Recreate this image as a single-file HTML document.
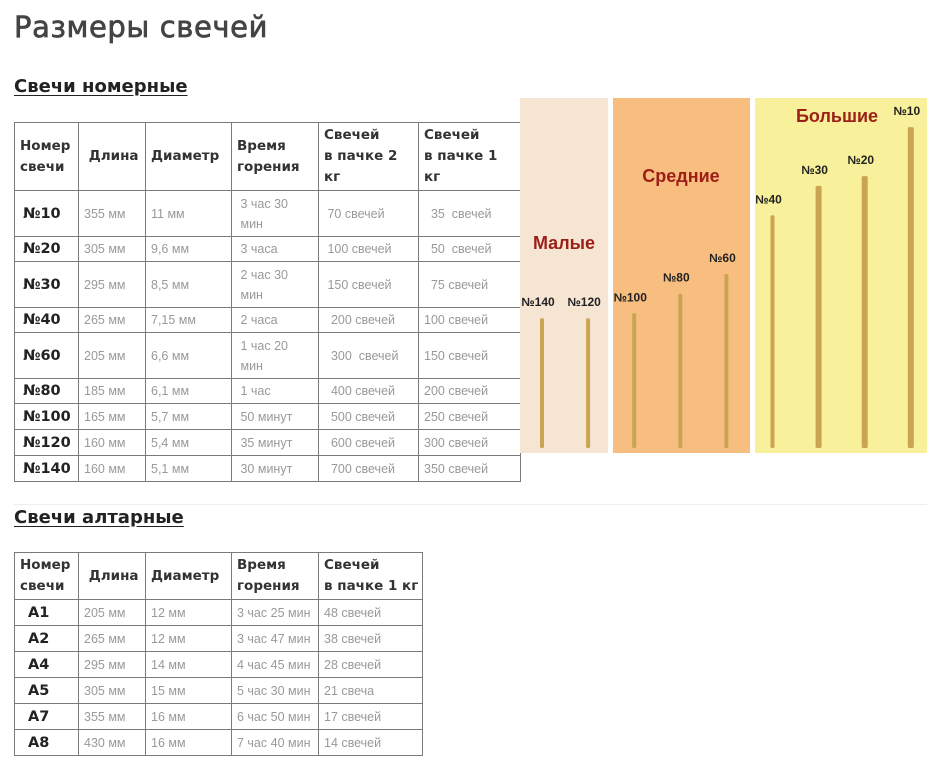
<!DOCTYPE html>
<html><head><meta charset="utf-8">
<style>
body{margin:0;width:937px;height:772px;background:#fff;position:relative;overflow:hidden;font-family:"DejaVu Sans","Liberation Sans","Noto Sans CJK SC",sans-serif}
.abs{position:absolute}
h1{position:absolute;left:14px;top:10px;margin:0;font-size:29px;font-weight:normal;color:#444;-webkit-text-stroke:0.7px #444;letter-spacing:0.6px}
h2{position:absolute;left:14px;margin:0;font-size:18px;font-weight:bold;color:#222;text-decoration:underline;text-underline-offset:3px}
table{position:absolute;border-collapse:collapse;table-layout:fixed}
td{border:1px solid #7a7a7a;padding:0 0 0 5px;font-family:"Liberation Sans",sans-serif;font-size:12.5px;color:#999;line-height:20px;vertical-align:middle;white-space:nowrap;overflow:hidden}
td.h{font-family:"DejaVu Sans",sans-serif;font-weight:bold;color:#333;font-size:13.5px;line-height:21px}
td.n{font-family:"DejaVu Sans",sans-serif;font-weight:bold;color:#222;font-size:14.5px;padding-left:8px}
</style></head><body>
<h1>Размеры свечей</h1>
<h2 style="top:76px">Свечи номерные</h2>
<table style="left:14px;top:122px;width:506px">
<colgroup><col style="width:64px"><col style="width:67px"><col style="width:86px"><col style="width:87px"><col style="width:100px"><col style="width:102px"></colgroup>
<tr style="height:68px"><td class="h">Номер<br>свечи</td><td class="h">&nbsp;Длина</td><td class="h">Диаметр</td><td class="h">Время<br>горения</td><td class="h">Свечей<br>в пачке 2<br>кг</td><td class="h">Свечей<br>в пачке 1<br>кг</td></tr>
<tr style="height:46px"><td class="n">№10</td><td>355 мм</td><td>11 мм</td><td>&nbsp;3 час 30<br>&nbsp;мин</td><td>&nbsp;70 свечей</td><td>&nbsp;&nbsp;35&nbsp; свечей</td></tr>
<tr style="height:25px"><td class="n">№20</td><td>305 мм</td><td>9,6 мм</td><td>&nbsp;3 часа</td><td>&nbsp;100 свечей</td><td>&nbsp;&nbsp;50&nbsp; свечей</td></tr>
<tr style="height:46px"><td class="n">№30</td><td>295 мм</td><td>8,5 мм</td><td>&nbsp;2 час 30<br>&nbsp;мин</td><td>&nbsp;150 свечей</td><td>&nbsp;&nbsp;75 свечей</td></tr>
<tr style="height:25px"><td class="n">№40</td><td>265 мм</td><td>7,15 мм</td><td>&nbsp;2 часа</td><td>&nbsp;&nbsp;200 свечей</td><td>100 свечей</td></tr>
<tr style="height:46px"><td class="n">№60</td><td>205 мм</td><td>6,6 мм</td><td>&nbsp;1 час 20<br>&nbsp;мин</td><td>&nbsp;&nbsp;300&nbsp; свечей</td><td>150 свечей</td></tr>
<tr style="height:25px"><td class="n">№80</td><td>185 мм</td><td>6,1 мм</td><td>&nbsp;1 час</td><td>&nbsp;&nbsp;400 свечей</td><td>200 свечей</td></tr>
<tr style="height:26px"><td class="n">№100</td><td>165 мм</td><td>5,7 мм</td><td>&nbsp;50 минут</td><td>&nbsp;&nbsp;500 свечей</td><td>250 свечей</td></tr>
<tr style="height:26px"><td class="n">№120</td><td>160 мм</td><td>5,4 мм</td><td>&nbsp;35 минут</td><td>&nbsp;&nbsp;600 свечей</td><td>300 свечей</td></tr>
<tr style="height:26px"><td class="n">№140</td><td>160 мм</td><td>5,1 мм</td><td>&nbsp;30 минут</td><td>&nbsp;&nbsp;700 свечей</td><td>350 свечей</td></tr>
</table>
<div class="abs" style="left:14px;top:504px;width:913px;height:1px;background:#eee"></div>
<h2 style="top:507px">Свечи алтарные</h2>
<table style="left:14px;top:552px;width:408px">
<colgroup><col style="width:64px"><col style="width:67px"><col style="width:86px"><col style="width:87px"><col style="width:104px"></colgroup>
<tr style="height:47px"><td class="h">Номер<br>свечи</td><td class="h">&nbsp;Длина</td><td class="h">Диаметр</td><td class="h">Время<br>горения</td><td class="h">Свечей<br>в пачке 1 кг</td></tr>
<tr style="height:26px"><td class="n">&nbsp;A1</td><td>205 мм</td><td>12 мм</td><td>3 час 25 мин</td><td>48 свечей</td></tr>
<tr style="height:26px"><td class="n">&nbsp;A2</td><td>265 мм</td><td>12 мм</td><td>3 час 47 мин</td><td>38 свечей</td></tr>
<tr style="height:26px"><td class="n">&nbsp;A4</td><td>295 мм</td><td>14 мм</td><td>4 час 45 мин</td><td>28 свечей</td></tr>
<tr style="height:26px"><td class="n">&nbsp;A5</td><td>305 мм</td><td>15 мм</td><td>5 час 30 мин</td><td>21 свеча</td></tr>
<tr style="height:26px"><td class="n">&nbsp;A7</td><td>355 мм</td><td>16 мм</td><td>6 час 50 мин</td><td>17 свечей</td></tr>
<tr style="height:26px"><td class="n">&nbsp;A8</td><td>430 мм</td><td>16 мм</td><td>7 час 40 мин</td><td>14 свечей</td></tr>
</table>
<svg class="abs" style="left:0;top:0" width="937" height="772" id="cv">
<rect x="520" y="98" width="88" height="355" fill="#f7e5d3"/>
<rect x="613" y="98" width="137" height="355" fill="#f8be7f"/>
<rect x="755" y="98" width="172" height="355" fill="#f8f09a"/>
<g font-family="Liberation Sans, sans-serif" font-weight="bold" fill="#9c1f17" font-size="18">
<text x="564" y="249" text-anchor="middle">Малые</text>
<text x="681" y="182" text-anchor="middle">Средние</text>
<text x="837" y="122" text-anchor="middle">Большие</text>
</g>
<g id="candles"></g>
</svg>
<script>
const candleNames=["№140","№120","№100","№80","№60","№40","№30","№20","№10"];
const candleLengths=[160,160,165,185,205,265,295,305,355];
const g=document.getElementById('candles');
const ns='http://www.w3.org/2000/svg';
const base=448, x0=542, dx=46.1;
function yH(l){return 0.98*l-27;}
candleNames.forEach((n,i)=>{
  const x=x0+i*dx, h=yH(candleLengths[i]), w=i>=6?6:4;
  const r=document.createElementNS(ns,'rect');
  r.setAttribute('x',x-w/2);r.setAttribute('y',base-h);r.setAttribute('width',w);r.setAttribute('height',h);
  r.setAttribute('fill','#c9a552');r.setAttribute('rx',1.5);
  
  
  g.appendChild(r);
  const t=document.createElementNS(ns,'text');
  t.setAttribute('x',x-4);t.setAttribute('y',base-h-12);t.setAttribute('text-anchor','middle');
  t.setAttribute('font-family','Liberation Sans, sans-serif');t.setAttribute('font-weight','bold');t.setAttribute('font-size','12');t.setAttribute('fill','#222');
  t.textContent=n;
  
  
  g.appendChild(t);
});
</script>
</body></html>
